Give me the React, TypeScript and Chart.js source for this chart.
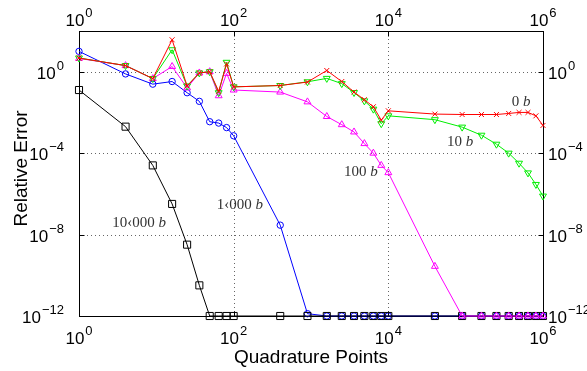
import React, { useEffect, useRef } from 'react';
import { Chart, registerables } from 'chart.js';

Chart.register(...registerables);

// Quadrature points (x)
const QUAD_POINTS = [
  1, 4, 9, 16, 25, 36, 49, 64, 81, 100,
  400, 900, 1600, 2500, 3600, 4900, 6400, 8100, 10000,
  40000, 90000, 160000, 250000, 360000, 490000, 640000, 810000, 1000000,
];

// Relative error for each bandwidth
const ERR_0B = [
  4.7, 2.0, 0.46, 37, 0.20, 0.87, 1.0, 0.11, 2.4, 0.18,
  0.21, 0.31, 1.15, 0.33, 0.10, 0.042, 0.019, 0.0042, 0.012,
  0.0083, 0.0079, 0.0079, 0.0079, 0.0089, 0.010, 0.010, 0.0068, 0.0023,
];
const ERR_10B = [
  4.7, 2.0, 0.46, 12, 0.20, 0.87, 1.0, 0.093, 2.9, 0.18,
  0.21, 0.32, 0.47, 0.26, 0.095, 0.037, 0.0145, 0.0028, 0.0068,
  0.0044, 0.0019, 7.6e-4, 2.75e-4, 1.0e-4, 3.2e-5, 1.07e-5, 2.9e-6, 7.8e-7,
];
const ERR_100B = [
  4.5, 2.0, 0.46, 1.8, 0.16, 0.87, 1.0, 0.066, 0.83, 0.126,
  0.10, 0.033, 0.0063, 0.0025, 0.0011, 2.95e-4, 1.0e-4, 2.5e-5, 1.1e-5,
  2.75e-10, 1e-12, 1e-12, 1e-12, 1e-12, 1e-12, 1e-12, 1e-12, 1e-12,
];
const ERR_1000B = [
  10, 0.78, 0.245, 0.33, 0.093, 0.035, 0.0035, 0.0030, 0.0018, 7.1e-4,
  2.9e-8, 1.3e-12, 1e-12, 1e-12, 1e-12, 1e-12, 1e-12, 1e-12, 1e-12,
  1e-12, 1e-12, 1e-12, 1e-12, 1e-12, 1e-12, 1e-12, 1e-12, 1e-12,
];
const ERR_10000B = [
  0.126, 0.002, 2.5e-5, 3.2e-7, 3.2e-9, 3.2e-11, 1e-12, 1e-12, 1e-12, 1e-12,
  1e-12, 1e-12, 1e-12, 1e-12, 1e-12, 1e-12, 1e-12, 1e-12, 1e-12,
  1e-12, 1e-12, 1e-12, 1e-12, 1e-12, 1e-12, 1e-12, 1e-12, 1e-12,
];

// Tick exponents
const X_TICK_EXPS = [0, 2, 4, 6];
const Y_TICK_EXPS = [-12, -8, -4, 0];

// Inline series labels (number part, then italic "b"), anchored in data space
const SERIES_NAMES = ['0', '10', '100', '1\u2039000', '10\u2039000'];
const LABEL_X = [5.2e5, 8.5e4, 4400, 120, 6.0];
const LABEL_Y = [0.036, 4.0e-4, 1.3e-5, 3.2e-7, 4.2e-8];

const X_TITLE = 'Quadrature Points';
const Y_TITLE = 'Relative Error';

const SANS = '"Liberation Sans", Arial, Helvetica, sans-serif';
const SERIF = '"Liberation Serif", "Times New Roman", serif';

function pts(ys: number[]) {
  return QUAD_POINTS.map((x, i) => ({ x, y: ys[i] }));
}

function supText(e: number) {
  return e < 0 ? '\u2212' + String(-e) : String(e);
}

function drawPow(ctx: CanvasRenderingContext2D, e: number, x: number, y: number, align: 'center' | 'left' | 'right') {
  ctx.font = `17px ${SANS}`;
  const wBase = ctx.measureText('10').width;
  ctx.font = `13px ${SANS}`;
  const s = supText(e);
  const wSup = ctx.measureText(s).width;
  const total = wBase + 1 + wSup;
  let x0 = x;
  if (align === 'center') x0 = x - total / 2;
  else if (align === 'right') x0 = x - total;
  ctx.textAlign = 'left';
  ctx.textBaseline = 'alphabetic';
  ctx.fillStyle = '#000';
  ctx.font = `17px ${SANS}`;
  ctx.fillText('10', x0, y);
  ctx.font = `13px ${SANS}`;
  ctx.fillText(s, x0 + wBase + 1, y - 9);
}

const decorPlugin = {
  id: 'decor',
  beforeDatasetsDraw(chart: any) {
    const { ctx, chartArea: a, scales } = chart;
    const xs = scales.x;
    const ys = scales.y;
    ctx.save();
    // dotted grid
    ctx.strokeStyle = '#666';
    ctx.lineWidth = 1;
    ctx.setLineDash([1, 3]);
    for (const e of X_TICK_EXPS) {
      const px = Math.round(xs.getPixelForValue(Math.pow(10, e))) + 0.5;
      if (px > a.left + 2 && px < a.right - 2) {
        ctx.beginPath();
        ctx.moveTo(px, a.top);
        ctx.lineTo(px, a.bottom);
        ctx.stroke();
      }
    }
    for (const e of Y_TICK_EXPS) {
      const py = Math.round(ys.getPixelForValue(Math.pow(10, e))) + 0.5;
      if (py > a.top + 2 && py < a.bottom - 2) {
        ctx.beginPath();
        ctx.moveTo(a.left, py);
        ctx.lineTo(a.right, py);
        ctx.stroke();
      }
    }
    ctx.setLineDash([]);
    // frame
    ctx.strokeStyle = '#000';
    ctx.lineWidth = 1;
    const L = Math.round(a.left) + 0.5;
    const R = Math.round(a.right) + 0.5;
    const T = Math.round(a.top) + 0.5;
    const B = Math.round(a.bottom) + 0.5;
    ctx.strokeRect(L, T, R - L, B - T);
    // ticks (inward)
    const tl = 5;
    ctx.beginPath();
    for (const e of X_TICK_EXPS) {
      const px = Math.round(xs.getPixelForValue(Math.pow(10, e))) + 0.5;
      ctx.moveTo(px, B); ctx.lineTo(px, B - tl);
      ctx.moveTo(px, T); ctx.lineTo(px, T + tl);
    }
    for (const e of Y_TICK_EXPS) {
      const py = Math.round(ys.getPixelForValue(Math.pow(10, e))) + 0.5;
      ctx.moveTo(L, py); ctx.lineTo(L + tl, py);
      ctx.moveTo(R, py); ctx.lineTo(R - tl, py);
    }
    ctx.stroke();
    ctx.restore();
  },
  afterDraw(chart: any) {
    const { ctx, chartArea: a, scales } = chart;
    const xs = scales.x;
    const ys = scales.y;
    ctx.save();
    // tick labels
    for (const e of X_TICK_EXPS) {
      const px = xs.getPixelForValue(Math.pow(10, e));
      drawPow(ctx, e, px, a.bottom + 28, 'center');
      drawPow(ctx, e, px, a.top - 5, 'center');
    }
    for (const e of Y_TICK_EXPS) {
      const py = ys.getPixelForValue(Math.pow(10, e));
      drawPow(ctx, e, a.left - 15, py + 7, 'right');
      drawPow(ctx, e, a.right + 5, py + 7, 'left');
    }
    // axis titles
    ctx.fillStyle = '#000';
    ctx.font = `19px ${SANS}`;
    ctx.textAlign = 'center';
    ctx.textBaseline = 'alphabetic';
    ctx.fillText(X_TITLE, (a.left + a.right) / 2, a.bottom + 47);
    ctx.save();
    ctx.translate(27, (a.top + a.bottom) / 2 - 5);
    ctx.rotate(-Math.PI / 2);
    ctx.fillText(Y_TITLE, 0, 0);
    ctx.restore();
    // series labels
    ctx.fillStyle = '#333';
    ctx.textAlign = 'left';
    for (let i = 0; i < SERIES_NAMES.length; i++) {
      const cx = xs.getPixelForValue(LABEL_X[i]);
      const cy = ys.getPixelForValue(LABEL_Y[i]);
      ctx.font = `15px ${SERIF}`;
      const num = SERIES_NAMES[i] + ' ';
      const w1 = ctx.measureText(num).width;
      ctx.font = `italic 15px ${SERIF}`;
      const w2 = ctx.measureText('b').width;
      const x0 = cx - (w1 + w2) / 2;
      ctx.font = `15px ${SERIF}`;
      ctx.fillText(num, x0, cy + 5);
      ctx.font = `italic 15px ${SERIF}`;
      ctx.fillText('b', x0 + w1, cy + 5);
    }
    ctx.restore();
  },
};

export default function App() {
  const ref = useRef<HTMLCanvasElement | null>(null);
  useEffect(() => {
    if (!ref.current) return;
    const common = {
      borderWidth: 1,
      pointBorderWidth: 1,
      pointBackgroundColor: 'rgba(0,0,0,0)',
      tension: 0,
      clip: false as any,
    };
    const chart = new Chart(ref.current, {
      type: 'line',
      data: {
        datasets: [
          { ...common, label: '0 b', data: pts(ERR_0B), borderColor: '#ff0000', pointBorderColor: '#ff0000', pointStyle: 'crossRot', pointRadius: 3.5 },
          { ...common, label: '10 b', data: pts(ERR_10B), borderColor: '#00ee00', pointBorderColor: '#00ee00', pointStyle: 'triangle', pointRotation: 180, pointRadius: 4 },
          { ...common, label: '100 b', data: pts(ERR_100B), borderColor: '#ff00ff', pointBorderColor: '#ff00ff', pointStyle: 'triangle', pointRadius: 4 },
          { ...common, label: '10000 b', data: pts(ERR_10000B), borderColor: '#000000', pointBorderColor: '#000000', pointStyle: 'rect', pointRadius: 5 },
          { ...common, label: '1000 b', data: pts(ERR_1000B), borderColor: '#0000ff', pointBorderColor: '#0000ff', pointStyle: 'circle', pointRadius: 3.2 },
        ] as any,
      },
      options: {
        animation: false,
        responsive: false,
        maintainAspectRatio: false,
        devicePixelRatio: 1,
        layout: { padding: { left: 79, right: 44, top: 31, bottom: 55 } },
        plugins: { legend: { display: false }, tooltip: { enabled: false } },
        scales: {
          x: { type: 'logarithmic', min: 1, max: 1e6, display: false },
          y: { type: 'logarithmic', min: 1e-12, max: 100, display: false },
        },
      } as any,
      plugins: [decorPlugin],
    });
    return () => chart.destroy();
  }, []);
  return (
    <div style={{ position: 'fixed', left: 0, top: 0, width: 587, height: 371, background: '#fff' }}>
      <canvas ref={ref} width={587} height={371} style={{ display: 'block', width: 587, height: 371 }} />
    </div>
  );
}
